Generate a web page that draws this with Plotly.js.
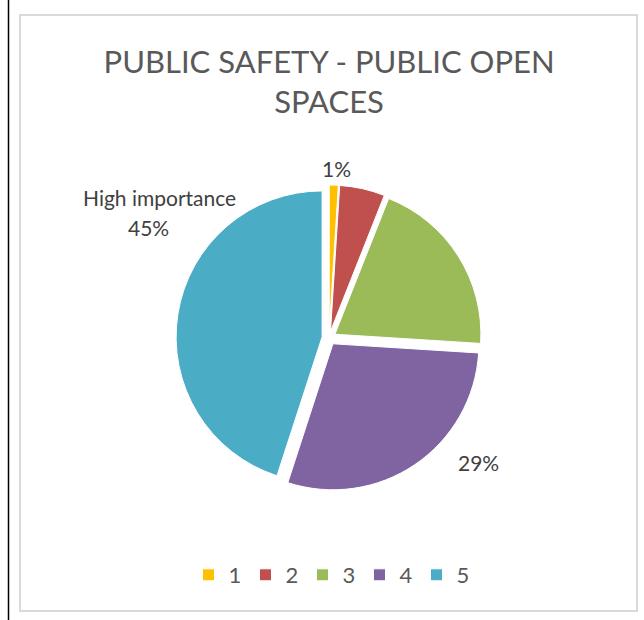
<!DOCTYPE html>
<html>
<head>
<meta charset="utf-8">
<script src="https://cdn.plot.ly/plotly-3.0.1.min.js"></script>
<style>
  html, body { margin: 0; padding: 0; background: #ffffff; }
  #chart { width: 644px; height: 620px; }
</style>
</head>
<body>
<div id="chart"></div>
<script>
// ---- data ----
const categories = ['1', '2', '3', '4', '5'];
const values = [1, 5, 20, 29, 45];
const colors = ['#FFC000', '#C0504D', '#9BBB59', '#8064A2', '#4BACC6'];
const labelNames = ['', '', '', '', 'High importance'];
const chartTitle = 'PUBLIC SAFETY - PUBLIC OPEN<br>SPACES';

const total = values.reduce((a, b) => a + b, 0);
const pct = values.map(v => Math.round(v / total * 100) + '%');

const W = 644, H = 620;
const px = x => x / W;
const py = y => 1 - y / H;

const trace = {
  type: 'pie',
  labels: categories,
  values: values,
  sort: false,
  direction: 'clockwise',
  rotation: 0,
  pull: 0.048,
  marker: { colors: colors, line: { color: '#ffffff', width: 1 } },
  textinfo: 'none',
  hoverinfo: 'label+percent',
  domain: { x: [px(329 - 153), px(329 + 153)], y: [py(338 + 153), py(338 - 153)] },
  showlegend: true
};

const labelFont = { family: 'Lato, "Open Sans", sans-serif', size: 21, color: '#404040' };
const annotations = [
  { x: px(336), y: py(168), text: pct[0] },
  { x: px(159), y: py(197), text: labelNames[4] },
  { x: px(148), y: py(228), text: pct[4] },
  { x: px(478), y: py(462), text: pct[3] }
].map(a => Object.assign({ xref: 'paper', yref: 'paper', showarrow: false, xanchor: 'center', yanchor: 'middle', font: labelFont }, a));

const layout = {
  width: W, height: H,
  margin: { l: 0, r: 0, t: 0, b: 0 },
  paper_bgcolor: '#ffffff',
  title: {
    text: chartTitle,
    font: { family: 'Lato, "Open Sans", sans-serif', size: 31, color: '#595959' },
    x: 0.511, xanchor: 'center',
    y: 1 - 73 / H, yanchor: 'top', yref: 'container'
  },
  legend: {
    orientation: 'h',
    x: px(331), xanchor: 'center',
    y: py(575), yanchor: 'middle',
    font: { family: 'Lato, "Open Sans", sans-serif', size: 22, color: '#595959' },
    itemwidth: 30,
    entrywidth: 12,
    traceorder: 'normal'
  },
  annotations: annotations,
  shapes: [
    { type: 'line', xref: 'paper', yref: 'paper', x0: px(8.5), x1: px(8.5), y0: 0, y1: 1, line: { color: '#000000', width: 1.5 } },
    { type: 'rect', xref: 'paper', yref: 'paper', x0: px(20), x1: px(637), y0: py(611), y1: py(15), line: { color: '#D9D9D9', width: 2 } }
  ]
};

Plotly.newPlot('chart', [trace], layout, { displayModeBar: false, staticPlot: true });
</script>
</body>
</html>
